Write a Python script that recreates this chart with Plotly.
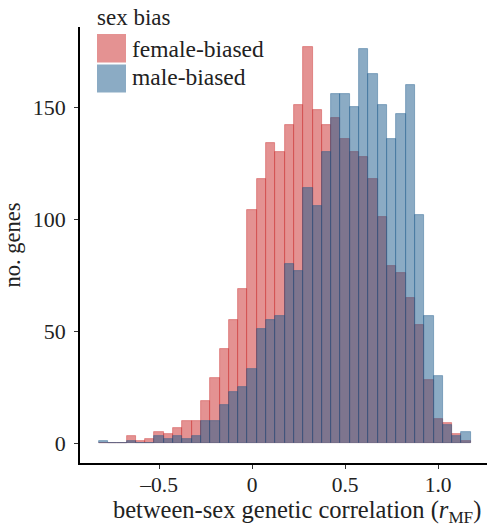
import plotly.graph_objects as go

# bin centres (bin width 0.05)
bin_centers = [-0.80, -0.75, -0.70, -0.65, -0.60, -0.55, -0.50, -0.45, -0.40, -0.35,
               -0.30, -0.25, -0.20, -0.15, -0.10, -0.05, 0.00, 0.05, 0.10, 0.15,
               0.20, 0.25, 0.30, 0.35, 0.40, 0.45, 0.50, 0.55, 0.60, 0.65,
               0.70, 0.75, 0.80, 0.85, 0.90, 0.95, 1.00, 1.05, 1.10, 1.15]
female_biased = [0, 0, 0, 3, 1, 2, 5, 4, 7, 10,
                 10, 19, 29, 42, 55, 69, 104, 118, 134, 130,
                 142, 151, 177, 149, 142, 145, 136, 130, 128, 118,
                 101, 79, 76, 65, 53, 28, 11, 9, 4, 1]
male_biased = [1, 0, 0, 1, 0, 0, 3, 2, 3, 2,
               3, 10, 10, 17, 23, 25, 33, 51, 55, 57,
               80, 77, 114, 106, 130, 156, 156, 150, 176, 165,
               151, 136, 147, 160, 102, 57, 30, 8, 3, 5]
x_tickvals = [-0.5, 0, 0.5, 1.0]
x_ticktext = ["\u20130.5", "0", "0.5", "1.0"]
y_tickvals = [0, 50, 100, 150]
series_names = ["female-biased", "male-biased"]
legend_title = "sex bias"
x_title = "between-sex genetic correlation (<i>r</i><sub>MF</sub>)"
y_title = "no. genes"

RED = "rgba(201,37,37,0.5)"
BLUE = "rgba(23,87,137,0.5)"
FONT = "Liberation Serif, Times New Roman, serif"
TXT = "#222"

W, H = 487, 532
L, R, T, B = 80, 0, 27, 69

fig = go.Figure()
fig.add_trace(go.Bar(x=bin_centers, y=female_biased, width=0.05, name=series_names[0],
                     marker=dict(color=RED, line=dict(color=RED, width=0.8))))
fig.add_trace(go.Bar(x=bin_centers, y=male_biased, width=0.05, name=series_names[1],
                     marker=dict(color=BLUE, line=dict(color=BLUE, width=0.8))))

def px_x(p):
    return (p - L) / (W - L - R)

def px_y(p):
    return (H - B - p) / (H - T - B)

# manual legend (large swatches like the original)
shapes = [
    dict(type="rect", xref="paper", yref="paper", x0=px_x(97), x1=px_x(126),
         y0=px_y(62.5), y1=px_y(34), fillcolor=RED, line=dict(width=0)),
    dict(type="rect", xref="paper", yref="paper", x0=px_x(97), x1=px_x(126),
         y0=px_y(92.5), y1=px_y(64.5), fillcolor=BLUE, line=dict(width=0)),
]
annotations = [
    dict(text=legend_title, xref="paper", yref="paper", x=px_x(95), y=px_y(18),
         xanchor="left", yanchor="middle", showarrow=False,
         font=dict(family=FONT, size=23, color=TXT)),
    dict(text=series_names[0], xref="paper", yref="paper", x=px_x(130), y=px_y(49),
         xanchor="left", yanchor="middle", showarrow=False,
         font=dict(family=FONT, size=23.5, color=TXT)),
    dict(text=series_names[1], xref="paper", yref="paper", x=px_x(130), y=px_y(77),
         xanchor="left", yanchor="middle", showarrow=False,
         font=dict(family=FONT, size=23.5, color=TXT)),
    dict(text=x_title, xref="paper", yref="paper", x=px_x(297), y=px_y(511),
         xanchor="center", yanchor="middle", showarrow=False,
         font=dict(family=FONT, size=24.5, color=TXT)),
]

fig.update_layout(
    width=W, height=H,
    margin=dict(l=L, r=R, t=T, b=B, pad=0),
    barmode="overlay", bargap=0,
    plot_bgcolor="white", paper_bgcolor="white",
    showlegend=False,
    font=dict(family=FONT, size=20, color=TXT),
    shapes=shapes, annotations=annotations,
)
fig.update_xaxes(
    range=[-0.925, 1.2625], tickvals=x_tickvals, ticktext=x_ticktext,
    showline=True, linecolor="black", linewidth=1.6, showgrid=False, zeroline=False,
    ticks="outside", ticklen=4, tickwidth=1.4, tickcolor="#333",
    tickfont=dict(family=FONT, size=21.5, color=TXT), ticklabelstandoff=-3,
)
fig.update_yaxes(
    range=[-8.85, 185.85], tickvals=y_tickvals,
    showline=True, linecolor="black", linewidth=1.6, showgrid=False, zeroline=False,
    ticks="outside", ticklen=4, tickwidth=1.4, tickcolor="#333",
    tickfont=dict(family=FONT, size=22, color=TXT), ticklabelstandoff=4,
    title=dict(text=y_title, font=dict(family=FONT, size=22.5, color=TXT), standoff=8),
)

fig.write_html("out.html")
